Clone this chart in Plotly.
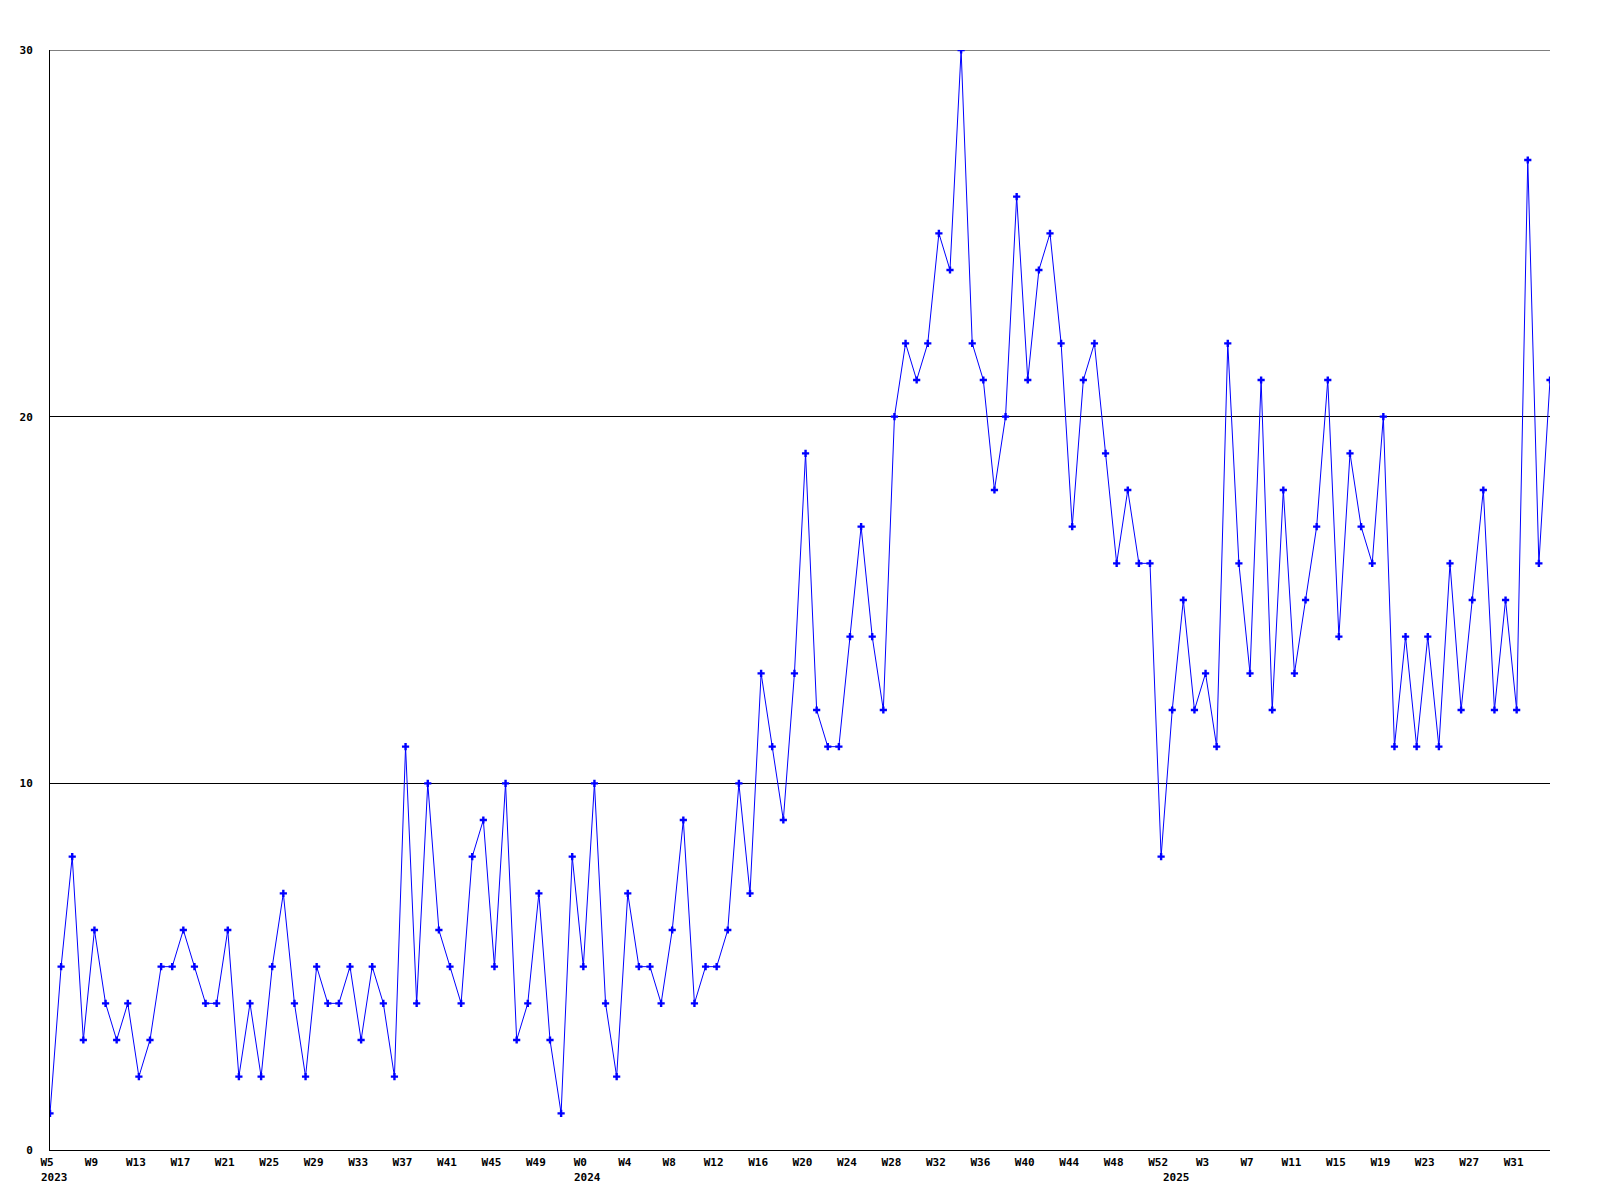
import plotly.graph_objects as go

# ---- data ----
# weekly periods: (year, first week, last week)
year_ranges = [(2023, 5, 52), (2024, 0, 52), (2025, 0, 34)]

counts = [
    1, 5, 8, 3, 6, 4, 3, 4, 2, 3, 5, 5, 6, 5, 4, 4, 6, 2, 4, 2, 5, 7, 4, 2, 5, 4, 4, 5, 3, 5, 4, 2, 11, 4,
    10, 6, 5, 4, 8, 9, 5, 10, 3, 4, 7, 3, 1, 8, 5, 10, 4, 2, 7, 5, 5, 4,
    6, 9, 4, 5, 5, 6, 10, 7, 13, 11, 9, 13, 19, 12, 11, 11, 14, 17, 14, 12, 20,
    22, 21, 22, 25, 24, 30, 22, 21, 18, 20, 26, 21, 24, 25, 22, 17, 21, 22, 19, 16, 18, 16, 16,
    8, 12, 15, 12, 13, 11, 22, 16, 13, 21, 12, 18, 13, 15, 17, 21, 14, 19, 17, 16, 20,
    11, 14, 11, 14, 11, 16, 12, 15, 18, 12, 15, 12, 27, 16, 21,
]

y_ticks = [0, 10, 20, 30]
tick_step = 4

# ---- build categories ----
categories = []
week_labels = []
year_first = {}
for yr, w0, w1 in year_ranges:
    for w in range(w0, w1 + 1):
        key = f"{yr}-W{w:02d}"
        if yr not in year_first:
            year_first[yr] = key
        categories.append(key)
        week_labels.append(f"W{w}")

tickvals = categories[::tick_step]
ticktext = week_labels[::tick_step]

FONT = "DejaVu Sans Mono"

fig = go.Figure()
fig.add_trace(go.Scatter(
    x=categories,
    y=counts,
    mode="lines+markers",
    line=dict(color="#0000FF", width=1),
    marker=dict(symbol="cross", size=6, color="#0000FF", line=dict(width=0)),
    hoverinfo="x+y",
    showlegend=False,
))

# top grid line (plotly drops the gridline at the range edge)
fig.add_hline(y=y_ticks[-1], line=dict(color="black", width=1), layer="below")

for yr, key in year_first.items():
    fig.add_annotation(
        x=key, y=0, xref="x", yref="paper",
        text=str(yr), showarrow=False,
        xanchor="left", yanchor="top",
        xshift=-11, yshift=-19,
        font=dict(family=FONT, size=11, color="black", weight="bold"),
    )

fig.update_layout(
    width=1600, height=1200,
    margin=dict(l=50, r=50, t=50, b=50),
    paper_bgcolor="white",
    plot_bgcolor="white",
    font=dict(family=FONT, size=11, color="black"),
)

fig.update_xaxes(
    type="category",
    categoryorder="array",
    categoryarray=categories,
    range=[0, len(categories) - 1],
    tickmode="array",
    tickvals=tickvals,
    ticktext=ticktext,
    tickfont=dict(family=FONT, size=11, color="black", weight="bold"),
    ticks="",
    ticklabelstandoff=2,
    ticklabelshift=-3,
    showgrid=False,
    showline=True,
    linecolor="black",
    linewidth=1,
    zeroline=False,
)

fig.update_yaxes(
    range=[0, 30],
    tickmode="array",
    tickvals=y_ticks,
    ticktext=[str(v) for v in y_ticks],
    tickfont=dict(family=FONT, size=11, color="black", weight="bold"),
    ticks="",
    ticklabelstandoff=14,
    showgrid=True,
    gridcolor="black",
    gridwidth=1,
    showline=True,
    linecolor="black",
    linewidth=1,
    zeroline=False,
)

fig.write_html(
    "out.html",
    config={"displayModeBar": False},
    post_script="document.body.style.margin='0';",
)
